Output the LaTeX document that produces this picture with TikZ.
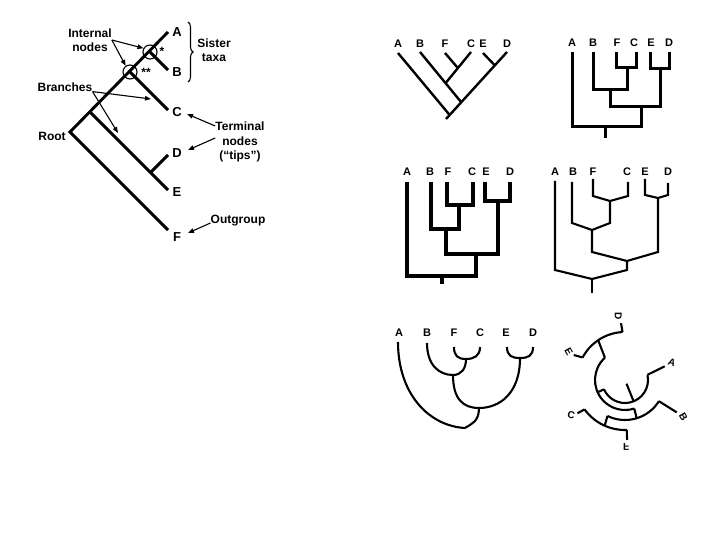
\documentclass[tikz,border=0pt]{standalone}
\usepackage{fontspec}
\setmainfont{Liberation Sans}
\usepackage{tikz}
\usetikzlibrary{arrows.meta,calc,decorations.pathreplacing}

\begin{document}
\begin{tikzpicture}[
  x=1pt, y=-1pt,
  font=\bfseries\fontsize{12}{14.5}\selectfont,
  note/.style={align=center,inner sep=0pt},
  bigtip/.style={inner sep=0pt,font=\bfseries\fontsize{13}{13}\selectfont},
  tipname/.style={inner sep=0pt,font=\bfseries\fontsize{11}{11}\selectfont},
  smalltip/.style={inner sep=0pt,font=\bfseries\fontsize{10}{10}\selectfont},
  arr/.style={-{Triangle[length=6pt,width=4.5pt]},line width=1.1pt},
  ring/.style={draw,circle,line width=1.1pt,minimum size=14pt,inner sep=0pt},
  trunk/.style={line width=2.9pt},
  slim/.style={line width=2.4pt},
  boxy/.style={line width=3pt},
  heavy/.style={line width=4.2pt},
  fine/.style={line width=2.1pt},
  curvy/.style={line width=2.1pt}
]
\fill[white] (0,0) rectangle (720,540);
\useasboundingbox (0,0) rectangle (720,540);

% annotated tree
\coordinate (root) at (70,132);
\coordinate (tA) at (168,32);
\coordinate (nAB) at (150,52);
\coordinate (tB) at (168,70);
\coordinate (nABC) at (130,72);
\coordinate (tC) at (168,110);
\coordinate (nDE) at (90,112);
\coordinate (nD) at (150.5,172.5);
\coordinate (tD) at (168,155);
\coordinate (tE) at (168,190);
\coordinate (tF) at (168,230);
\draw[trunk] (tA) -- (root) -- (tF);
\foreach \a/\b in {nAB/tB,nABC/tC,nDE/tE,nD/tD}
  \draw[trunk] (\a) -- (\b);
\node[ring] (ringAB) at (nAB) {};
\node[ring] (ringABC) at (nABC) {};
\node[inner sep=0pt] (starAB) at (162,51) {*};
\node[inner sep=0pt] (starABC) at (146,72) {**};
\foreach \t/\y in {A/32,B/72,C/112,D/153,E/192,F/237}
  \node[bigtip] (lab\t) at (177,\y) {\t};
\draw[line width=1.1pt,decorate,decoration={brace,amplitude=5pt}] (188,22) -- (188,82);

\node[note] (internal) at (90,40) {Internal\\nodes};
\node[note] (sister) at (214,50) {Sister\\taxa};
\node[note] (branches) at (65,87) {Branches};
\node[note] (rootlbl) at (52,136) {Root};
\node[note] (terminal) at (240,142) {Terminal\\nodes\\(“tips”)};
\node[note] (outgroup) at (238,221) {Outgroup};
\coordinate (brC) at (151,99);
\coordinate (brE) at (118,133);
\coordinate (ptC) at (187,114);
\coordinate (ptD) at (188,150);
\coordinate (ptF) at (188,233);
\draw[arr] (internal.east) -- (ringAB.150);
\draw[arr] (internal.east) -- (ringABC.125);
\draw[arr] (branches.south east) -- (brC);
\draw[arr] (branches.south east) -- (brE);
\draw[arr] ([yshift=16pt]terminal.west) -- (ptC);
\draw[arr] ([yshift=4pt]terminal.west) -- (ptD);
\draw[arr] ([yshift=-2pt]outgroup.west) -- (ptF);

% slanted cladogram
\foreach \t/\x in {A/398,B/420,F/445,C/471,E/483,D/507}
  \node[tipname] (m\t lab) at (\x,44) {\t};
\coordinate (mA) at (398,53);
\coordinate (mB) at (420,52);
\coordinate (mF) at (445,53);
\coordinate (mC) at (471,52);
\coordinate (mE) at (483,53);
\coordinate (mD) at (507,52);
\coordinate (mbase) at (446,119);
\coordinate (mroot) at ($(mD)!0.94!(mbase)$);
\coordinate (mX) at ($(mD)!0.75!(mbase)$);
\coordinate (mZ) at ($(mD)!0.2!(mbase)$);
\coordinate (mY) at ($(mB)!0.62!(mX)$);
\coordinate (mW) at ($(mC)!0.516!(mY)$);
\foreach \a/\b in {mA/mroot,mD/mbase,mB/mX,mC/mY,mF/mW,mE/mZ}
  \draw[slim] (\a) -- (\b);

% rectangular cladogram
\foreach \t/\x in {A/572,B/593,F/617,C/634,E/651,D/669}
  \node[tipname] (r\t lab) at (\x,43) {\t};
\coordinate (rA) at (572,52);
\coordinate (rB) at (593,52);
\coordinate (rF) at (616,52);
\coordinate (rC) at (636,52);
\coordinate (rE) at (650,52);
\coordinate (rD) at (669,52);
\coordinate (rFC) at (627,68);
\coordinate (rED) at (660,69);
\coordinate (rBFC) at (610,90);
\coordinate (rX) at (641,107);
\coordinate (rroot) at (605,127);
\coordinate (rbase) at (605,138);
\foreach \l/\n/\r in {rF/rFC/rC,rE/rED/rD,rB/rBFC/rFC,rBFC/rX/rED,rA/rroot/rX}
  \draw[boxy] (\l) |- (\n) -| (\r);
\draw[boxy] (rroot) -- (rbase);

% heavy rectangular cladogram
\foreach \t/\x in {A/407,B/430,F/448,C/472,E/486,D/510}
  \node[tipname] (k\t lab) at (\x,172) {\t};
\coordinate (kA) at (407,182);
\coordinate (kB) at (431,182);
\coordinate (kF) at (447,182);
\coordinate (kC) at (473,182);
\coordinate (kE) at (485,182);
\coordinate (kD) at (510,182);
\coordinate (kFC) at (459,205);
\coordinate (kED) at (498,201);
\coordinate (kBFC) at (446,229);
\coordinate (kX) at (476,254);
\coordinate (kroot) at (442,276);
\coordinate (kbase) at (442,284);
\foreach \l/\n/\r in {kF/kFC/kC,kE/kED/kD,kB/kBFC/kFC,kBFC/kX/kED,kA/kroot/kX}
  \draw[heavy] (\l) |- (\n) -| (\r);
\draw[heavy] (kroot) -- (kbase);

% cladogram with sloped joins
\foreach \t/\x in {A/555,B/573,F/593,C/627,E/645,D/668}
  \node[tipname] (g\t lab) at (\x,172) {\t};
\coordinate (gA) at (555,181);
\coordinate (gB) at (572,182);
\coordinate (gF) at (593,179);
\coordinate (gC) at (628,182);
\coordinate (gE) at (645,179);
\coordinate (gD) at (668,183);
\coordinate (gFC) at (610,201);
\coordinate (gED) at (658,198);
\coordinate (gBFC) at (592,230);
\coordinate (gX) at (627,261);
\coordinate (groot) at (592,279);
\coordinate (gbase) at (592,293);
\foreach \l/\n/\r/\h in {gF/gFC/gC/5pt,gE/gED/gD/3pt,gB/gBFC/gFC/7pt,gBFC/gX/gED/9pt,gA/groot/gX/9pt}
  \draw[fine] (\l) -- ([yshift=\h]\l |- \n) -- (\n) -- ([yshift=\h]\r |- \n) -- (\r);
\draw[fine] (groot) -- (gbase);

% curved cladogram
\foreach \t/\x in {A/399,B/427,F/454,C/480,E/506,D/533}
  \node[tipname] (c\t lab) at (\x,333) {\t};
\coordinate (cA) at (398,342);
\coordinate (cB) at (427,343);
\coordinate (cF) at (454,347);
\coordinate (cC) at (480,347);
\coordinate (cE) at (507,347);
\coordinate (cD) at (533,347);
\coordinate (cW) at (466,359);
\coordinate (cZ) at (520,358);
\coordinate (cY) at (453,375);
\coordinate (cX) at (479,408);
\coordinate (croot) at (465,428);
\draw[curvy] (cF) .. controls +(0,9) and +(-8,0) .. (cW);
\draw[curvy] (cC) .. controls +(0,9) and +(8,0) .. (cW);
\draw[curvy] (cE) .. controls +(0,9) and +(-8,0) .. (cZ);
\draw[curvy] (cD) .. controls +(0,9) and +(8,0) .. (cZ);
\draw[curvy] (cB) .. controls +(0,22) and +(-14,0) .. (cY);
\draw[curvy] (cW) .. controls +(0,10) and +(8,0) .. (cY);
\draw[curvy] (cY) .. controls +(0,24) and +(-16,0) .. (cX);
\draw[curvy] (cZ) .. controls +(0,36) and +(20,0) .. (cX);
\draw[curvy] (cA) .. controls +(0,52) and +(-36,-2) .. (croot);
\draw[curvy] (cX) .. controls +(0,14) and +(6,-4) .. (croot);

% circular tree
\begin{scope}[shift={(625,380)}]
  \coordinate (qo) at (68:4);
  \coordinate (qR) at (68:23);
  \draw[fine] (qo) -- (qR);
  \draw[fine] (-12:23) arc[start angle=-12,end angle=156,radius=23];
  \draw[fine] (-13:23) -- (-19:42);
  \draw[fine] (156:23) -- (156:30);
  \draw[fine] (228:30) arc[start angle=228,end angle=72,radius=30];
  \draw[fine] (228:30) -- (236:48);
  \draw[fine] (-93:48) arc[start angle=-93,end angle=-152,radius=48];
  \draw[fine] (-93:48) -- (-94:57);
  \draw[fine] (-152:48) -- (-154:57);
  \draw[fine] (72:30) -- (73:40);
  \draw[fine] (116:40) arc[start angle=116,end angle=32,radius=40];
  \draw[fine] (32:40) -- (32:61);
  \draw[fine] (116:40) -- (114:50);
  \draw[fine] (144:50) arc[start angle=144,end angle=88,radius=50];
  \draw[fine] (144:50) -- (145:58);
  \draw[fine] (88:50) -- (88:60);
  \node[smalltip,rotate=-20] (qA) at (-20:50) {A};
  \node[smalltip,rotate=-60] (qB) at (32:69) {B};
  \node[smalltip,rotate=-15] (qC) at (147:64) {C};
  \node[smalltip,rotate=-90] (qD) at (-96:64) {D};
  \node[smalltip,rotate=-60] (qE) at (-153:63) {E};
  \node[smalltip] (qF) at (89:67) {\scalebox{1}[-1]{F}};
\end{scope}
\end{tikzpicture}
\end{document}
